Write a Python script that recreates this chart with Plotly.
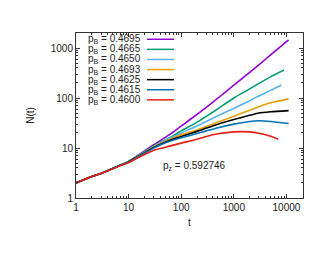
import plotly.graph_objects as go

# Data (log-log growth curves)
t_main = [1, 2, 3, 5, 7, 10, 15, 20, 30, 60, 100, 200, 300, 500, 1000, 2000, 3000, 5000]

n_4695 = [2, 2.7, 3.1, 3.9, 4.55, 5.4, 7.1, 8.7, 11.6, 18.5, 27.5, 47, 65, 100, 180, 325, 462, 725, 1450]
n_4665 = [2, 2.7, 3.1, 3.9, 4.55, 5.35, 7.0, 8.4, 11.0, 16.0, 22, 33, 43, 61, 100, 152, 196, 265, 362]
n_4650 = [2, 2.7, 3.1, 3.9, 4.55, 5.3, 6.95, 8.3, 10.8, 15.6, 20, 27.5, 34, 44, 62, 88, 110, 142, 182]
n_4693 = [2, 2.7, 3.1, 3.9, 4.52, 5.28, 6.85, 8.1, 10.5, 14.8, 18.5, 23, 27, 33, 43, 57, 67, 80, 96]
n_4625 = [2, 2.7, 3.1, 3.9, 4.5, 5.25, 6.8, 8.0, 10.3, 14.2, 17, 21.5, 25, 30, 37, 45, 50, 53, 56]
n_4615 = [2, 2.7, 3.1, 3.9, 4.5, 5.2, 6.7, 7.8, 10.0, 13.6, 16, 19.5, 22, 25.5, 30, 34, 35, 34, 31]
n_4600 = [2, 2.7, 3.1, 3.85, 4.45, 5.1, 6.4, 7.4, 9.0, 10.9, 12.5, 15, 17, 19.2, 21, 21, 19.8, 17.2, 15]

t_end = [11000, 9000, 8000, 11000, 11000, 11000, 7000]

labels = ["0.4695", "0.4665", "0.4650", "0.4693", "0.4625", "0.4615", "0.4600"]
colors = ["#9400d3", "#009e73", "#56b4e9", "#e69f00", "#000000", "#0072b2", "#e51e10"]
series = [n_4695, n_4665, n_4650, n_4693, n_4625, n_4615, n_4600]

x_ticks = [1, 10, 100, 1000, 10000]
y_ticks = [1, 10, 100, 1000]
minor_x = [k * 10 ** d for d in range(5) for k in range(2, 10)]
minor_y = [k * 10 ** d for d in range(4) for k in range(2, 10)]

font = "Liberation Sans, Arial, sans-serif"

fig = go.Figure()
for lab, col, n, te in zip(labels, colors, series, t_end):
    fig.add_trace(go.Scatter(x=t_main + [te], y=n, mode="lines", name=lab,
                             line=dict(color=col, width=1.6, shape="spline", smoothing=0.6)))

# gnuplot-style key: text on the left, line sample on the right
y0 = 0.962
dy = 0.0612
shapes = []
annotations = []
for i, (lab, col) in enumerate(zip(labels, colors)):
    yy = y0 - i * dy
    annotations.append(dict(xref="paper", yref="paper", x=0.293, y=yy, xanchor="right",
                            yanchor="middle", showarrow=False,
                            text="p<sub>B</sub> = " + lab,
                            font=dict(size=10, color="#222", family=font)))
    shapes.append(dict(type="line", xref="paper", yref="paper", x0=0.313, x1=0.432,
                       y0=yy, y1=yy, line=dict(color=col, width=1.5)))

annotations.append(dict(xref="paper", yref="paper", x=0.67, y=0.145, showarrow=False,
                        text="p<sub>z</sub> = 0.592746",
                        font=dict(size=10, color="#222", family=font)))

axis_style = dict(type="log", showgrid=False, zeroline=False, ticks="inside", ticklen=4,
                  tickcolor="#333", showline=True, linecolor="#333", linewidth=1,
                  mirror="allticks", tickfont=dict(size=10, color="#222", family=font))

# page body has an 8px margin, so the figure is a bit smaller than the window
fig.update_layout(
    width=322, height=247,
    margin=dict(l=68, r=27, t=25, b=57),
    plot_bgcolor="white", paper_bgcolor="white",
    showlegend=False,
    shapes=shapes, annotations=annotations,
    xaxis=dict(axis_style, range=[0, 4.315], tickvals=x_ticks,
               ticktext=[str(v) for v in x_ticks],
               minor=dict(tickvals=minor_x, ticks="inside", ticklen=2, tickcolor="#333"),
               title=dict(text="t", font=dict(size=10, color="#222", family=font), standoff=6)),
    yaxis=dict(axis_style, range=[0, 3.3], tickvals=y_ticks,
               ticktext=[str(v) for v in y_ticks],
               minor=dict(tickvals=minor_y, ticks="inside", ticklen=2, tickcolor="#333"),
               title=dict(text="N(t)", font=dict(size=10, color="#222", family=font), standoff=14)),
)

fig.write_html("out.html")
